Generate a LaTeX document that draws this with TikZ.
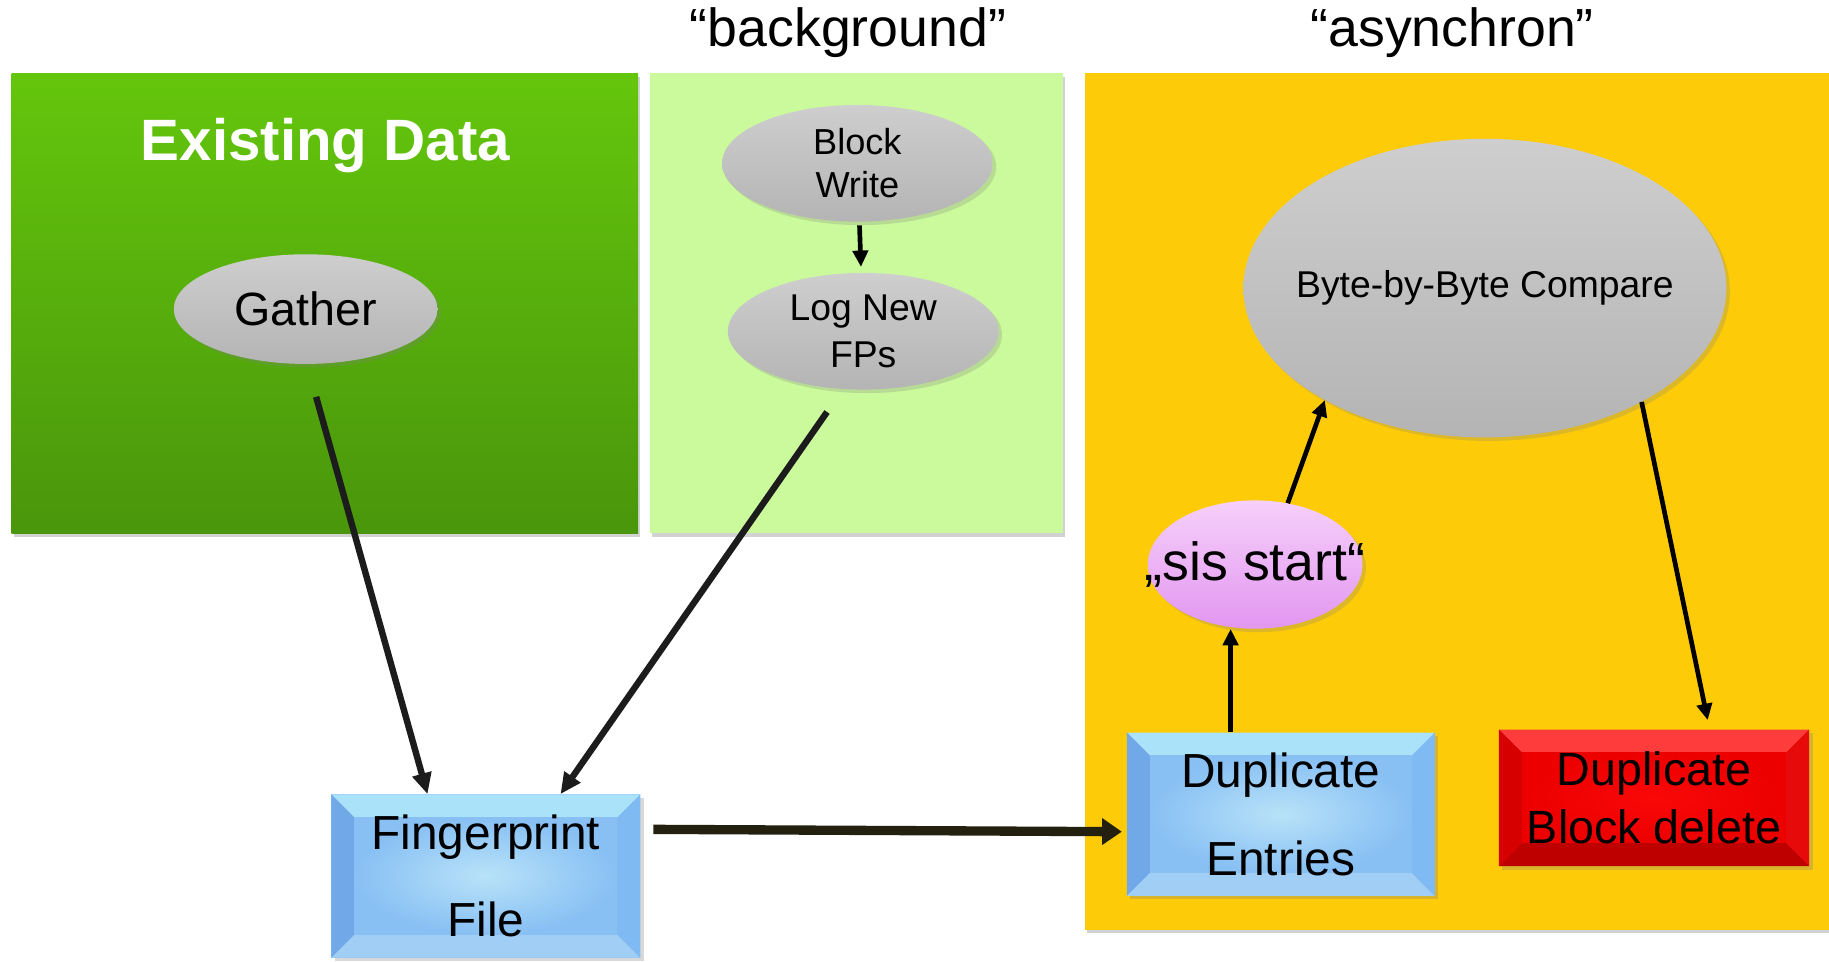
\documentclass[tikz,border=0pt]{standalone}
\usepackage{fontspec}
\setmainfont{Liberation Sans}
\usetikzlibrary{shapes.geometric,arrows.meta,shadows,calc}
\definecolor{gtop}{RGB}{100,198,12}
\definecolor{gbot}{RGB}{74,150,12}
\definecolor{lgreen}{RGB}{203,250,156}
\definecolor{orange}{RGB}{253,203,8}
\definecolor{graytop}{RGB}{206,206,206}
\definecolor{graymid}{RGB}{166,166,166}
\definecolor{graybot}{RGB}{180,180,180}
\definecolor{pinktop}{RGB}{246,208,250}
\definecolor{pinkmid}{RGB}{232,166,242}
\definecolor{pinkbot}{RGB}{226,150,240}
\definecolor{bluebase}{RGB}{136,192,244}
\definecolor{bluetop}{RGB}{170,226,250}
\definecolor{bluebot}{RGB}{160,206,244}
\definecolor{blueleft}{RGB}{112,168,232}
\definecolor{blueright}{RGB}{128,186,242}
\definecolor{bluein}{RGB}{184,226,248}
\definecolor{redbase}{RGB}{236,0,0}
\definecolor{redtop}{RGB}{255,60,60}
\definecolor{redbot}{RGB}{190,0,0}
\definecolor{redleft}{RGB}{214,0,0}
\definecolor{redright}{RGB}{230,10,10}
\definecolor{redin}{RGB}{250,8,8}
\definecolor{arrowc}{RGB}{28,28,28}
\definecolor{arrowd}{RGB}{36,32,16}
\begin{document}
\begin{tikzpicture}[x=1pt,y=-1pt,
  panel/.style={rectangle, draw=none, inner sep=0pt,
    drop shadow={shadow xshift=2pt, shadow yshift=-3pt, opacity=0.35}},
  ell/.style={ellipse, draw=none, inner sep=-40pt, align=center,
    drop shadow={shadow xshift=3pt, shadow yshift=-3pt, opacity=0.25}},
  grayell/.style={ell, top color=graytop, middle color=graymid, bottom color=graybot},
  bevel/.style n args={6}{rectangle, draw=none, inner sep=0pt, align=center, fill=#1,
    drop shadow={shadow xshift=3pt, shadow yshift=-3pt, opacity=0.3},
    path picture={
      \path (path picture bounding box.north west) coordinate (pnw)
            (path picture bounding box.north east) coordinate (pne)
            (path picture bounding box.south east) coordinate (pse)
            (path picture bounding box.south west) coordinate (psw);
      \fill[#2] (pnw) -- (pne) -- ([shift={(-20pt,-20pt)}]pne) -- ([shift={(20pt,-20pt)}]pnw) -- cycle;
      \fill[#3] (psw) -- (pse) -- ([shift={(-20pt,20pt)}]pse) -- ([shift={(20pt,20pt)}]psw) -- cycle;
      \fill[#4] (pnw) -- ([shift={(20pt,-20pt)}]pnw) -- ([shift={(20pt,20pt)}]psw) -- (psw) -- cycle;
      \fill[#5] (pne) -- ([shift={(-20pt,-20pt)}]pne) -- ([shift={(-20pt,20pt)}]pse) -- (pse) -- cycle;
      \shade[inner color=#6, outer color=#1] ([shift={(20pt,-20pt)}]pnw) rectangle ([shift={(-20pt,20pt)}]pse);
    }},
  bluebox/.style={bevel={bluebase}{bluetop}{bluebot}{blueleft}{blueright}{bluein}},
  redbox/.style={bevel={redbase}{redtop}{redbot}{redleft}{redright}{redin}},
  arrbig/.style={line width=5.5pt, draw=arrowc, -{Triangle[length=18pt,width=16pt]}},
  arrthick/.style={line width=8pt, draw=arrowd, -{Triangle[length=17pt,width=22pt]}},
  arrsmall/.style={line width=4pt, draw=black, -{Triangle[length=14pt,width=13pt]}},
  title/.style={font=\fontsize{46}{50}\selectfont, inner sep=0pt}
]
\useasboundingbox (0,0) rectangle (1568,824);
\fill[white] (0,0) rectangle (1568,824);

% titles
\node[title] (ttlbg) at (727,28) {“background”};
\node[title] (ttlas) at (1245,28) {“asynchron”};

% panels
\node[panel, top color=gtop, bottom color=gbot, minimum width=537pt, minimum height=394pt] (existing) at (278.5,260) {};
\node[panel, fill=lgreen, minimum width=354pt, minimum height=394pt] (bgpanel) at (734,260) {};
\node[panel, fill=orange, minimum width=645pt, minimum height=734pt] (aspanel) at (1252.5,430) {};

\node[text=white, font=\fontsize{50}{56}\selectfont\bfseries, inner sep=0pt] (exlabel) at (279,125) {Existing Data};

% ellipses
\node[grayell, minimum width=226pt, minimum height=94pt, font=\fontsize{40}{46}\selectfont] (gather) at (262,265) {Gather};
\node[grayell, minimum width=232pt, minimum height=100pt, font=\fontsize{31}{37}\selectfont] (block) at (735,140) {Block\\Write};
\node[grayell, minimum width=232pt, minimum height=100pt, font=\fontsize{32}{40}\selectfont] (log) at (740,284) {Log New\\FPs};
\node[grayell, minimum width=414pt, minimum height=256pt, font=\fontsize{32}{38}\selectfont] (byte) at (1273,247) {Byte-by-Byte Compare};
\node[ell, top color=pinktop, middle color=pinkmid, bottom color=pinkbot, minimum width=184pt, minimum height=110pt, font=\fontsize{46}{52}\selectfont] (sis) at (1076,484) {„sis start“};

% boxes
\node[bluebox, minimum width=265pt, minimum height=140pt, font=\fontsize{41}{74}\selectfont] (fp) at (416.5,751) {Fingerprint\\File};
\node[bluebox, minimum width=264pt, minimum height=140pt, font=\fontsize{41}{75}\selectfont] (dup) at (1098,698) {Duplicate\\Entries};
\node[redbox, minimum width=266pt, minimum height=117pt, font=\fontsize{40}{50}\selectfont] (del) at (1418,684) {Duplicate\\Block delete};

% connectors
\draw[arrbig] ([xshift=9pt,yshift=-28pt]gather.south) -- ([xshift=-50pt]fp.north);
\draw[arrbig] ([xshift=-31pt,yshift=-19pt]log.south) -- ([xshift=64pt]fp.north);
\draw[arrthick] ([xshift=11pt,yshift=40pt]fp.east) -- ([xshift=-4pt,yshift=-15pt]dup.west);
\draw[arrsmall, shorten <=3pt, shorten >=5pt] (block) -- (log);
\draw[arrsmall] ([xshift=-43pt]dup.north) -- ([xshift=-21pt]sis.south);
\draw[arrsmall] (sis.62) -- (byte.215);
\draw[arrsmall] (byte.324) -- ([xshift=46pt,yshift=8pt]del.north);
\end{tikzpicture}
\end{document}
